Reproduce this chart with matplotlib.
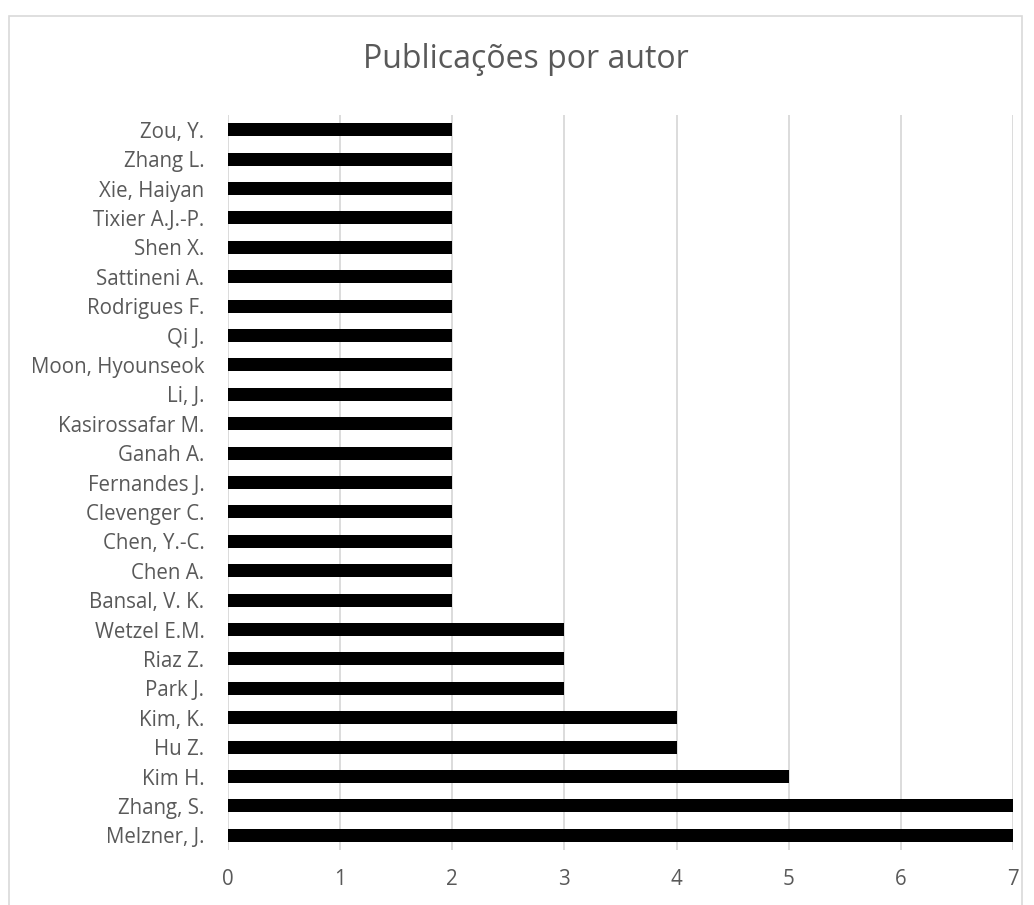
import numpy as np
import matplotlib.pyplot as plt
from matplotlib.patches import Rectangle

# authors from bottom to top, as shown in the chart
autores = ['Melzner, J.', 'Zhang, S.', 'Kim H.', 'Hu Z.', 'Kim, K.', 'Park J.',
           'Riaz Z.', 'Wetzel E.M.', 'Bansal, V. K.', 'Chen A.', 'Chen, Y.-C.',
           'Clevenger C.', 'Fernandes J.', 'Ganah A.', 'Kasirossafar M.', 'Li, J.',
           'Moon, Hyounseok', 'Qi J.', 'Rodrigues F.', 'Sattineni A.', 'Shen X.',
           'Tixier A.J.-P.', 'Xie, Haiyan', 'Zhang L.', 'Zou, Y.']
publicacoes = [7, 7, 5, 4, 4, 3, 3, 3, 2, 2, 2, 2, 2, 2, 2, 2, 2, 2, 2, 2, 2, 2, 2, 2, 2]
xticks = [0, 1, 2, 3, 4, 5, 6, 7]

plt.rcParams['font.family'] = ['Open Sans', 'DejaVu Sans']
cinza = '#595959'

W, H = 1034, 905
fig = plt.figure(figsize=(W / 100, H / 100), dpi=100)
# plot area in pixels: x 228..1013, y 115..850
ax = fig.add_axes([228 / W, 1 - 850 / H, (1013 - 228) / W, (850 - 115) / H])

y = np.arange(len(autores))
ax.barh(y, publicacoes, height=0.44, color='black', zorder=3)
ax.set_ylim(-0.5, len(autores) - 0.5)
ax.set_xlim(0, 7)
ax.set_yticks(y)
ax.set_yticklabels(autores, fontsize=14.8, color=cinza)
ax.set_xticks(xticks)
ax.set_xticklabels([str(t) for t in xticks], fontsize=14.8, color=cinza)
ax.tick_params(axis='both', length=0)
ax.tick_params(axis='y', pad=17)
ax.tick_params(axis='x', pad=14)
ax.grid(axis='x', color='#d9d9d9', linewidth=1.3, zorder=0)
for s in ax.spines.values():
    s.set_visible(False)

fig.text(526 / W, 1 - 60 / H, 'Publicações por autor',
         ha='center', va='center', fontsize=23, color=cinza)

# chart frame
fig.patches.append(Rectangle((9 / W, -0.01), (1022 - 9) / W, 1 - 16 / H + 0.01,
                             transform=fig.transFigure, fill=False,
                             edgecolor='#d9d9d9', linewidth=1.2))

fig.savefig('out.png', dpi=100)
